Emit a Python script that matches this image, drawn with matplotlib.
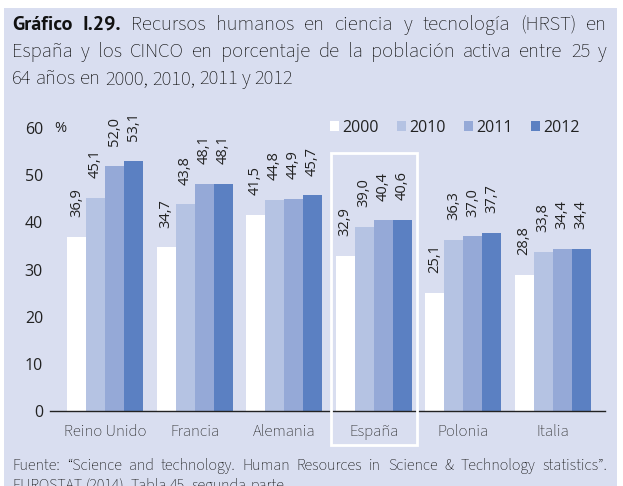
import matplotlib
matplotlib.use("Agg")
import matplotlib.pyplot as plt
from matplotlib.patches import Rectangle, Patch
from matplotlib.font_manager import FontProperties, fontManager
import numpy as np

categories = ["Reino Unido", "Francia", "Alemania", "España", "Polonia", "Italia"]
years = ["2000", "2010", "2011", "2012"]
v2000 = [36.9, 34.7, 41.5, 32.9, 25.1, 28.8]
v2010 = [45.1, 43.8, 44.8, 39.0, 36.3, 33.8]
v2011 = [52.0, 48.1, 44.9, 40.4, 37.0, 34.4]
v2012 = [53.1, 48.1, 45.7, 40.6, 37.7, 34.4]
series = [v2000, v2010, v2011, v2012]
colors = ["#FFFFFF", "#B5C3E3", "#95A9D7", "#5B80C2"]
yticks = [0, 10, 20, 30, 40, 50, 60]

title_bold = "Gráfico I.29."
title_lines = ["Recursos humanos en ciencia y tecnología (HRST) en",
               "España y los CINCO en porcentaje de la población activa entre 25 y",
               "64 años en 2000, 2010, 2011 y 2012"]
footer_lines = ["Fuente: “Science and technology. Human Resources in Science & Technology statistics”.",
                "EUROSTAT (2014), Tabla 45, segunda parte."]

avail = set(f.name for f in fontManager.ttflist)


def pick(*cands):
    for c in cands:
        if c in avail:
            return c
    return "DejaVu Sans"


def pick_heavy(*cands):
    for c in cands:
        ws = [f.weight for f in fontManager.ttflist if f.name == c]
        ws = [w if isinstance(w, (int, float)) else 700 for w in ws]
        heavy = [w for w in ws if w >= 700]
        if heavy:
            return c, max(heavy)
    return "DejaVu Sans", 700


MYR = [pick("Source Sans 3", "Source Sans Pro", "PT Sans", "Liberation Sans Narrow",
            "Roboto Condensed", "Liberation Sans"), "DejaVu Sans"]
CHART = [pick("Open Sans", "Noto Sans", "Lato"), "DejaVu Sans"]
BOLD_FAM, BOLD_W = pick_heavy("Source Sans 3", "Source Sans Pro", "PT Sans", "Lato",
                              "Open Sans", "Noto Sans")

BG = "#D9DEF0"
W, H = 623, 486
TXT = "#222222"

fig = plt.figure(figsize=(W / 100, H / 100), dpi=100)
fig.patch.set_facecolor("white")
fig.patches.append(Rectangle((4 / W, 0), (617 - 4) / W, (H - 8) / H,
                             transform=fig.transFigure, facecolor=BG,
                             edgecolor="none", zorder=-5))

ax = fig.add_axes([50 / W, 75 / H, 555 / W, 283 / H])
ax.set_zorder(1)
ax.set_facecolor("none")
ax.set_ylim(0, 60)
ax.set_xlim(-0.615, 5.585)

x = np.arange(len(categories))
bw = 0.212
for i, (vals, c) in enumerate(zip(series, colors)):
    xs = x + (i - 1.5) * bw
    ax.bar(xs, vals, width=bw, color=c, edgecolor="none", zorder=2)
    for xi, v in zip(xs, vals):
        ax.text(xi, v + 4.2, f"{v:.1f}".replace(".", ","), rotation=90,
                ha="center", va="bottom", fontsize=10.5, family=CHART,
                color=TXT, zorder=3)

for s in ["top", "right", "left"]:
    ax.spines[s].set_visible(False)
ax.spines["bottom"].set_color("#222222")
ax.spines["bottom"].set_linewidth(1.0)
ax.set_yticks(yticks)
ax.set_yticklabels([str(t) for t in yticks], family=CHART, fontsize=11.5, color=TXT)
ax.tick_params(axis="y", length=0, pad=5)
ax.set_xticks(x)
ax.set_xticklabels(categories, family=MYR, fontsize=12, color=TXT)
ax.tick_params(axis="x", length=0, pad=9.5)
ax.text(-0.5, 60, "%", family=CHART, fontsize=10.5, color=TXT,
        ha="center", va="center")

# highlight box around España
ax.add_patch(Rectangle((2.525, -7.2), 0.965, 61.9, fill=False, edgecolor="white",
                       linewidth=2.0, clip_on=False, zorder=4))

handles = [Patch(facecolor=c, edgecolor="none") for c in colors]
leg = ax.legend(handles, years, ncol=4, frameon=False, loc="center left",
                bbox_to_anchor=(330 / W, (H - 128) / H), bbox_transform=fig.transFigure,
                handlelength=0.56, handleheight=0.56, handletextpad=0.2,
                columnspacing=1.15, borderpad=0, borderaxespad=0,
                prop=FontProperties(family=CHART, size=11.5))
for t in leg.get_texts():
    t.set_color(TXT)

fig.canvas.draw()
renderer = fig.canvas.get_renderer()


def justified(words, x0, x1, ybase, justify=True):
    widths = []
    for w, fp in words:
        t = fig.text(0, 0, w, fontproperties=fp)
        widths.append(t.get_window_extent(renderer).width)
        t.remove()
    a1 = fig.text(0, 0, "a a", fontproperties=words[-1][1])
    a2 = fig.text(0, 0, "aa", fontproperties=words[-1][1])
    space = a1.get_window_extent(renderer).width - a2.get_window_extent(renderer).width
    a1.remove(); a2.remove()
    if justify and len(words) > 1:
        gap = max((x1 - x0 - sum(widths)) / (len(words) - 1), space * 0.6)
    else:
        gap = space
    cx = x0
    for (w, fp), wd in zip(words, widths):
        fig.text(cx / W, (H - ybase) / H, w, fontproperties=fp, color="#111111",
                 ha="left", va="baseline")
        cx += wd + gap


fp_bold = FontProperties(family=[BOLD_FAM, "DejaVu Sans"], size=14.5, weight=BOLD_W)
fp_reg = FontProperties(family=MYR, size=14.8)
line1 = [(w, fp_bold) for w in title_bold.split()] + [(w, fp_reg) for w in title_lines[0].split()]
justified(line1, 12, 607, 30)
justified([(w, fp_reg) for w in title_lines[1].split()], 12, 607, 57)
justified([(w, fp_reg) for w in title_lines[2].split()], 12, 607, 84, justify=False)

fp_foot = FontProperties(family=MYR, size=11.5)
justified([(w, fp_foot) for w in footer_lines[0].split()], 12, 607, 470)
justified([(w, fp_foot) for w in footer_lines[1].split()], 12, 607, 490, justify=False)

fig.savefig("out.png", dpi=100, facecolor=fig.get_facecolor())
